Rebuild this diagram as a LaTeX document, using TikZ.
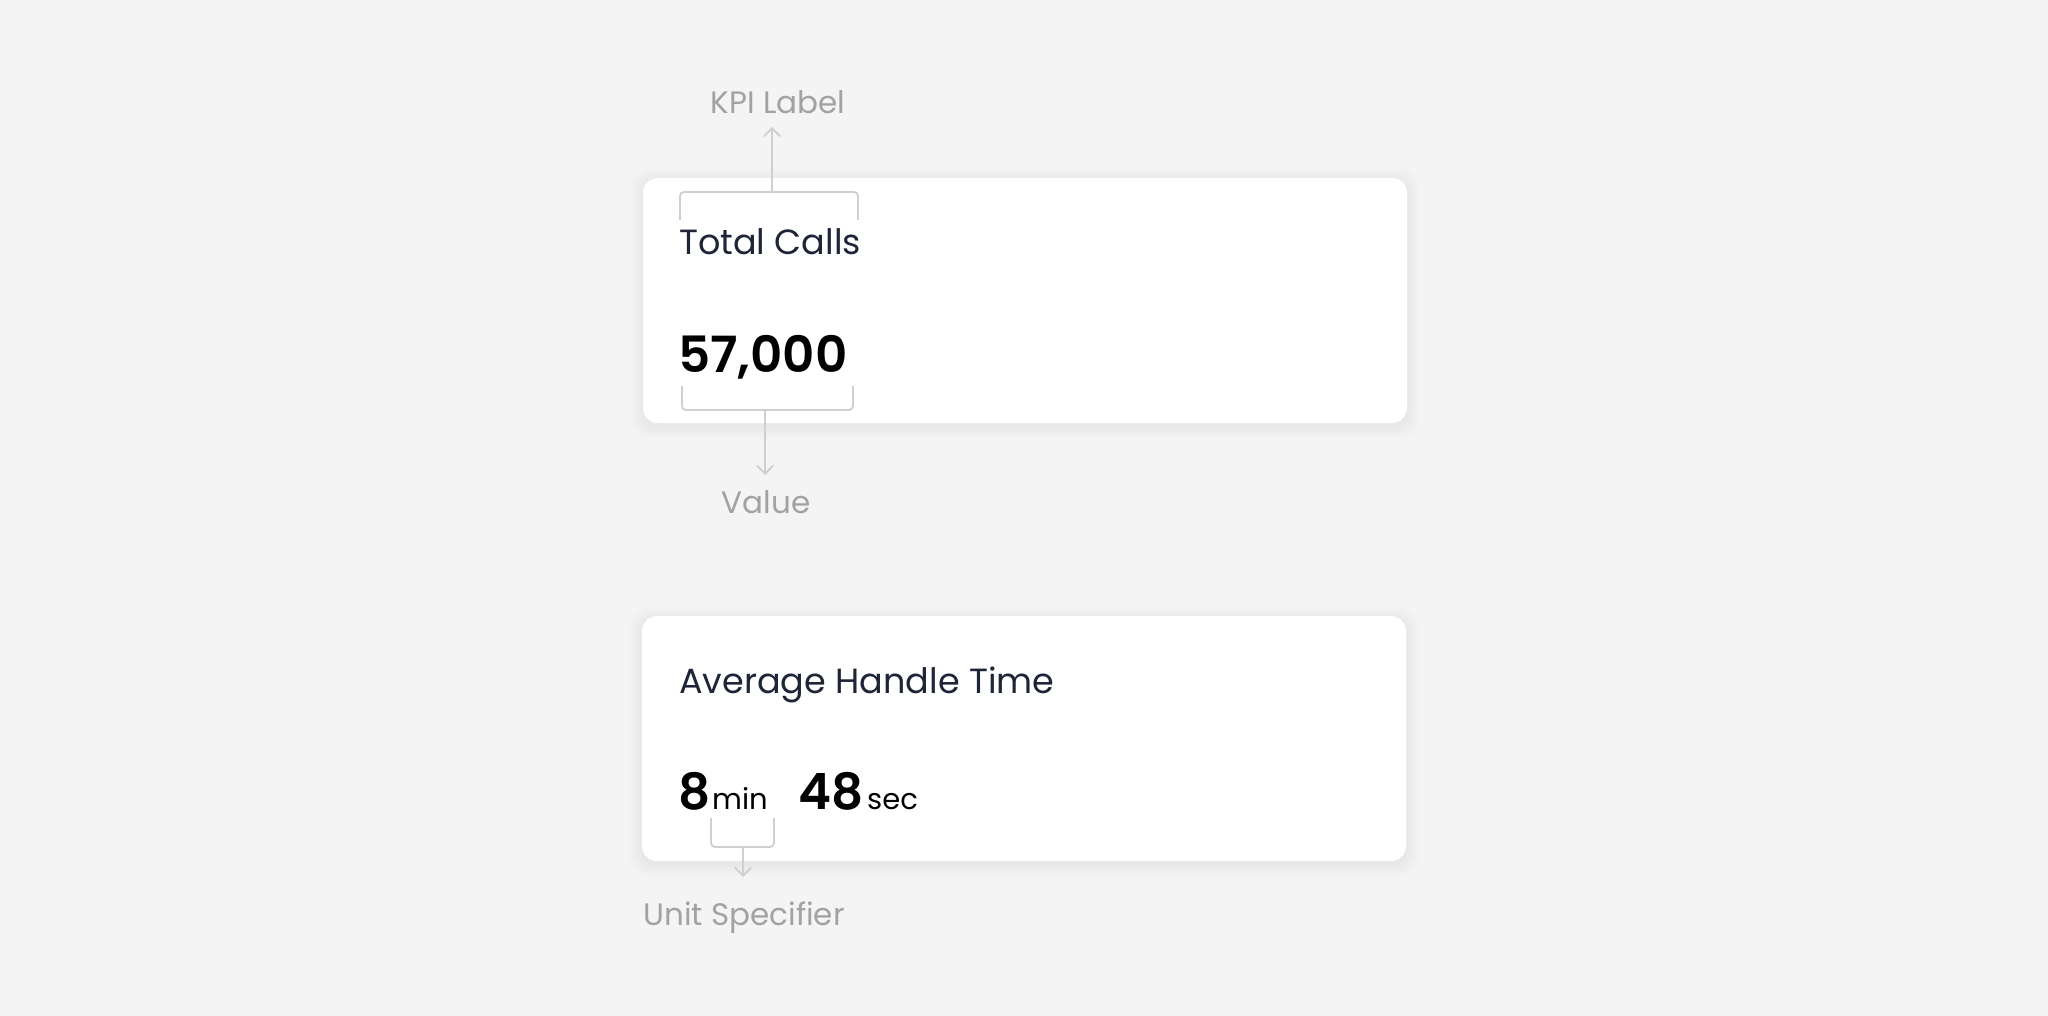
\documentclass[tikz,border=0pt]{standalone}
\usepackage{fontspec}
\setmainfont{Poppins}
\newfontfamily\semib{Poppins SemiBold}
\usetikzlibrary{arrows.meta}
\definecolor{bg}{HTML}{F4F4F4}
\definecolor{titlec}{HTML}{1E2536}
\definecolor{annc}{HTML}{A2A2A2}
\definecolor{brkc}{HTML}{CFCFCF}
\tikzset{
  card/.style={fill=white, rounded corners=15pt},
  cardshadow/.style={fill=black, opacity=0.009, rounded corners=18pt},
  titletext/.style={anchor=base west, inner sep=0pt, text=titlec, font=\fontsize{35}{40}\selectfont},
  numtext/.style={anchor=base west, inner sep=0pt, text=black, font=\fontsize{50}{56}\semib},
  unittext/.style={anchor=base west, inner sep=0pt, text=black, font=\fontsize{29}{33}\selectfont},
  anntext/.style={anchor=base, inner sep=0pt, text=annc, font=\fontsize{31}{35}\selectfont},
  brk/.style={draw=brkc, line width=1.8pt, rounded corners=4pt},
  conn/.style={draw=brkc, line width=1.8pt, -{Straight Barb[length=8pt,width=16pt,line width=1.8pt]}},
}
\begin{document}
\begin{tikzpicture}[x=1pt,y=-1pt]
\useasboundingbox[fill=bg] (0,0) rectangle (2048,1016);

% shadows
\foreach \d in {2,4,6,8,10,12}{
  \fill[cardshadow] (643-\d,178-\d+3) rectangle (1407+\d,423+\d+3);
  \fill[cardshadow] (642-\d,616-\d+3) rectangle (1406+\d,861+\d+3);
}
% cards
\fill[card] (643,178) rectangle (1407,423);
\fill[card] (642,616) rectangle (1406,861);

% card 1 texts
\node[titletext] (t1) at (679,255) {Total Calls};
\node[numtext] (v1) at (678,372) {57,000};

% card 2 texts
\node[titletext] (t2) at (679,693) {Average Handle Time};
\node[numtext] (n8) at (678,809) {8};
\node[unittext] (umin) at (712,809) {min};
\node[numtext] (n48) at (798,809) {48};
\node[unittext] (usec) at (867,809) {sec};

% annotation labels
\node[anntext] (kpi) at (778,114) {KPI Label};
\node[anntext] (val) at (766,513) {Value};
\node[anntext] (unit) at (744,925) {Unit Specifier};

% brackets
\draw[brk] (680,220) -- (680,192) -- (858,192) -- (858,220);
\draw[brk] (682,386) -- (682,410) -- (853,410) -- (853,386);
\draw[brk] (711,818) -- (711,847) -- (774,847) -- (774,818);

% connector coordinates
\coordinate (kb) at (772,192);
\coordinate (kt) at (772,127);
\coordinate (vb) at (765,410);
\coordinate (vt) at (765,475);
\coordinate (ub) at (743,847);
\coordinate (ut) at (743,877);

\draw[conn] (kb) -- (kt);
\draw[conn] (vb) -- (vt);
\draw[conn] (ub) -- (ut);
\end{tikzpicture}
\end{document}
